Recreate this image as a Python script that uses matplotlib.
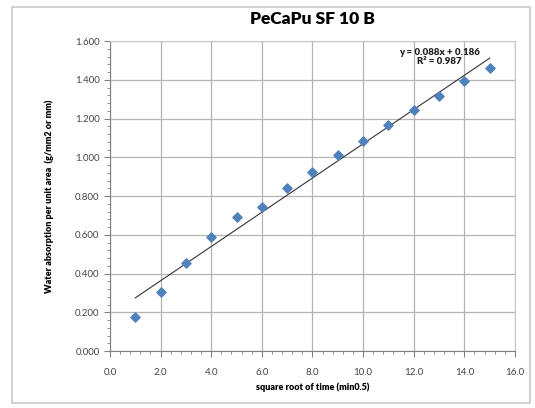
import numpy as np
import matplotlib.pyplot as plt
from matplotlib.patches import Rectangle
from matplotlib.ticker import MultipleLocator, FormatStrFormatter

plt.rcParams['font.family'] = ['Lato', 'DejaVu Sans']

sqrt_time = [1, 2, 3, 4, 5, 6, 7, 8, 9, 10, 11, 12, 13, 14, 15]
absorption = [0.175, 0.305, 0.454, 0.588, 0.690, 0.743, 0.840, 0.924,
              1.010, 1.084, 1.166, 1.244, 1.316, 1.394, 1.460]
eq_text = "y = 0.088x + 0.186\nR² = 0.987"

fig = plt.figure(figsize=(5.35, 4.08), dpi=100)
fig.patches.append(Rectangle((0.022, 0.012), 0.968, 0.97, transform=fig.transFigure,
                             fill=False, edgecolor='#c8c8c8', linewidth=1.2))

ax = fig.add_axes([0.2056, 0.1397, 0.757, 0.7598])
ax.scatter(sqrt_time, absorption, marker='D', s=22, color='#4F81BD', zorder=3)

# linear trendline
k, b = np.polyfit(sqrt_time, absorption, 1)
xs = np.array([sqrt_time[0], sqrt_time[-1]])
ax.plot(xs, k * xs + b, color='#333333', linewidth=0.8, zorder=2)
ax.text(13.0, 1.47, eq_text, fontsize=7, fontweight='heavy', ha='center',
        va='bottom', linespacing=1.0, color='#222222')

ax.set_xlim(0, 16)
ax.set_ylim(0, 1.6)
ax.xaxis.set_major_locator(MultipleLocator(2))
ax.xaxis.set_minor_locator(MultipleLocator(0.4))
ax.yaxis.set_major_locator(MultipleLocator(0.2))
ax.yaxis.set_minor_locator(MultipleLocator(0.04))
ax.xaxis.set_major_formatter(FormatStrFormatter('%.1f'))
ax.yaxis.set_major_formatter(FormatStrFormatter('%.3f'))
ax.grid(True, which='major', color='#b4b4b4', linewidth=0.9)
ax.set_axisbelow(True)

for side in ['top', 'right']:
    ax.spines[side].set_color('#c8c8c8')
for side in ['left', 'bottom']:
    ax.spines[side].set_color('#808080')
ax.tick_params(which='both', direction='out', colors='#808080', labelcolor='#444444',
               labelsize=7)
ax.tick_params(which='major', length=4)
ax.tick_params(which='minor', length=2.5)
ax.tick_params(axis='x', pad=8)

ax.set_title('PeCaPu SF 10 B', fontsize=12.5, fontweight='heavy', pad=12)
ax.set_xlabel('square root of time (min0.5)', fontsize=6.5, fontweight='heavy', labelpad=4)
ax.set_ylabel('Water absorption per unit area  (g/mm2 or mm)', fontsize=6.5,
              fontweight='heavy', labelpad=15)

fig.savefig('out.png', dpi=100)
